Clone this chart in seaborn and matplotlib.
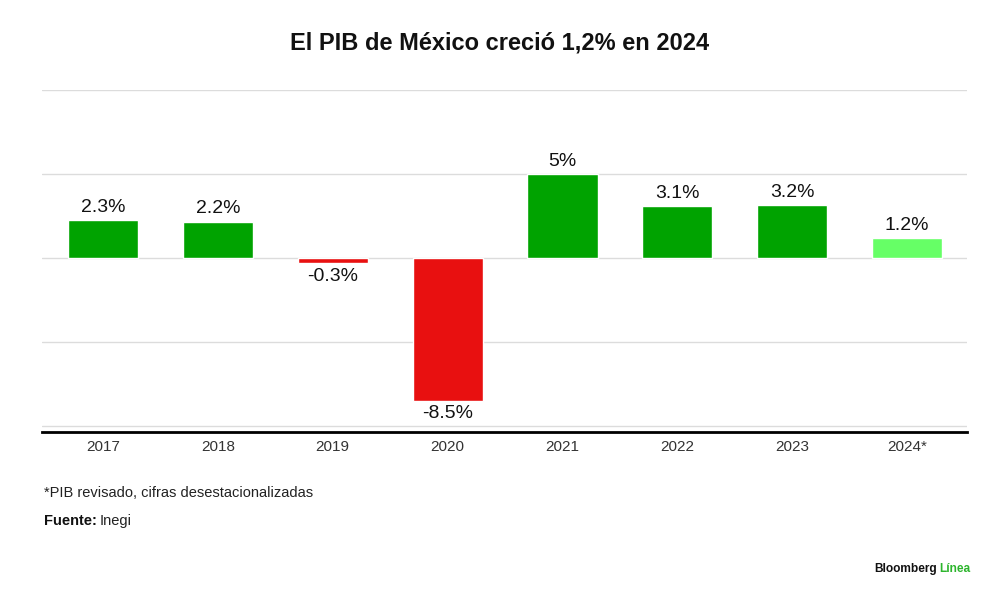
import numpy as np
import pandas as pd
import seaborn as sns
import matplotlib.pyplot as plt

years = ['2017', '2018', '2019', '2020', '2021', '2022', '2023', '2024*']
growth = [2.3, 2.2, -0.3, -8.5, 5.0, 3.1, 3.2, 1.2]
labels = ['2.3%', '2.2%', '-0.3%', '-8.5%', '5%', '3.1%', '3.2%', '1.2%']
bar_colors = ['#00a300', '#00a300', '#e81010', '#e81010', '#00a300', '#00a300', '#00a300', '#66ff66']

title = 'El PIB de México creció 1,2% en 2024'
note = '*PIB revisado, cifras desestacionalizadas'

sns.set_style('white')
plt.rcParams['font.family'] = ['Liberation Sans', 'DejaVu Sans']

df = pd.DataFrame({'year': years, 'growth': growth})

fig = plt.figure(figsize=(10, 5.97), dpi=100)
ax = fig.add_axes([0.042, 0.2764, 0.925, 0.5729])

sns.barplot(data=df, x='year', y='growth', hue='year', palette=bar_colors,
            saturation=1, width=0.61, legend=False, ax=ax, zorder=3)

ax.set_ylim(-10.33, 10.03)
ax.set_xlim(-0.53, 7.52)
ax.set_yticks([-10, -5, 0, 5, 10])
ax.yaxis.grid(True, color='#dcdcdc', lw=1, zorder=0)
ax.set_axisbelow(True)
ax.tick_params(axis='y', left=False, labelleft=False)
ax.tick_params(axis='x', bottom=False, labelsize=11, labelcolor='#333333', pad=2)
ax.set_xlabel('')
ax.set_ylabel('')
for s in ['top', 'left', 'right']:
    ax.spines[s].set_visible(False)
ax.spines['bottom'].set_color('black')
ax.spines['bottom'].set_linewidth(2)

for cont in ax.containers:
    i = int(round(cont[0].get_x() + cont[0].get_width() / 2))
    ax.bar_label(cont, labels=[labels[i]], padding=3, fontsize=14, color='#111111')

fig.text(0.5, 0.928, title, ha='center', va='center', fontsize=17, fontweight='bold', color='#111111')
fig.text(0.044, 0.175, note, ha='left', va='center', fontsize=10.5, color='#222222')

fig.canvas.draw()
r = fig.canvas.get_renderer()
t1 = fig.text(0.044, 0.128, 'Fuente:', ha='left', va='center', fontsize=10.5, fontweight='bold', color='#111111')
bb = t1.get_window_extent(r)
fig.text(bb.x1 / fig.bbox.width + 0.003, 0.128, 'Inegi', ha='left', va='center', fontsize=10.5, color='#222222')

t2 = fig.text(0.874, 0.047, 'Bloomberg', ha='left', va='center', fontsize=8.6, fontweight='bold', color='#111111')
bb2 = t2.get_window_extent(r)
fig.text(bb2.x1 / fig.bbox.width + 0.003, 0.047, 'Línea', ha='left', va='center', fontsize=8.6, fontweight='bold', color='#2db52d')

fig.savefig('out.png', dpi=100, facecolor='white')
